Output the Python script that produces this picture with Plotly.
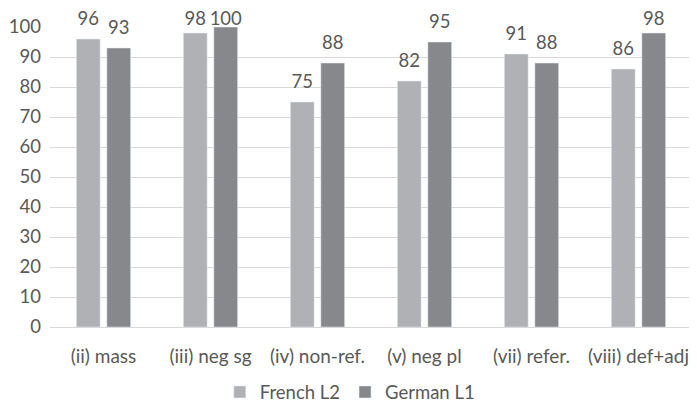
import plotly.graph_objects as go

categories = ["(ii) mass", "(iii) neg sg", "(iv) non-ref.", "(v) neg pl", "(vii) refer.", "(viii) def+adj"]
french_l2 = [96, 98, 75, 82, 91, 86]
german_l1 = [93, 100, 88, 95, 88, 98]
y_ticks = [0, 10, 20, 30, 40, 50, 60, 70, 80, 90, 100]

FONT = "Lato, 'Open Sans', sans-serif"
TXT = "#595959"
C_FR = "#b0b1b4"
C_DE = "#87888b"
LABEL_CEILING = 96  # data labels never rise above this level (kept inside the chart area)

fig = go.Figure()
fig.add_trace(go.Bar(name="French L2", x=categories, y=french_l2, marker_color=C_FR,
                     hoverinfo="x+y"))
fig.add_trace(go.Bar(name="German L1", x=categories, y=german_l1, marker_color=C_DE,
                     hoverinfo="x+y"))
# data labels, grouped exactly like the bars
for vals in (french_l2, german_l1):
    fig.add_trace(go.Scatter(x=categories, y=[min(v, LABEL_CEILING) for v in vals],
                             mode="text+markers", text=vals,
                             textposition="top center", cliponaxis=False, showlegend=False,
                             marker=dict(size=14, opacity=0), hoverinfo="skip",
                             textfont=dict(size=18.5, color=TXT, family=FONT)))

# page body has an 8px default margin, so the figure is drawn 8px smaller
fig.update_layout(
    width=689, height=398,
    margin=dict(l=42, r=5, t=19, b=79, autoexpand=False),
    paper_bgcolor="white", plot_bgcolor="white",
    barmode="group", bargap=0.43, bargroupgap=0.22,
    scattermode="group", scattergap=0.43,
    font=dict(family=FONT, size=18, color=TXT),
    showlegend=True,
    legend=dict(orientation="h", x=0.467, xanchor="center", y=-0.218, yanchor="middle",
                font=dict(size=18.5, color=TXT), itemwidth=30, tracegroupgap=0),
)
fig.update_xaxes(showgrid=False, showline=True, linecolor="#d9d9d9", linewidth=1, ticks="",
                 automargin=False, ticklabelstandoff=12, tickfont=dict(size=19, color=TXT))
fig.update_yaxes(range=[0, 100], tickvals=y_ticks, showgrid=True, gridcolor="#d9d9d9",
                 zeroline=False, showline=False, ticks="", ticklabelstandoff=8,
                 automargin=False, tickfont=dict(size=18.5, color=TXT))

fig.write_html("out.html")
